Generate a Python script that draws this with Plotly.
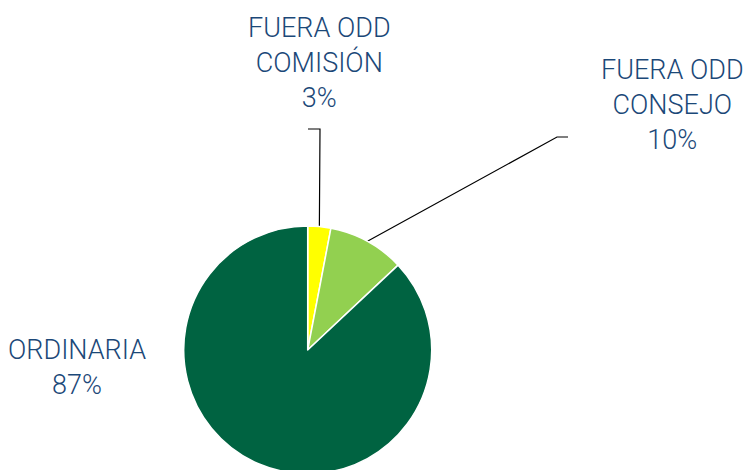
import math
import plotly.graph_objects as go

# ---- data ----
categories = ["FUERA ODD<br>COMISIÓN", "FUERA ODD<br>CONSEJO", "ORDINARIA"]
values = [3, 10, 87]
colors = ["#FFFF00", "#92D050", "#006341"]

# ---- layout constants (pixels) ----
W, H = 746, 474          # slightly taller than the window: pie is cropped at bottom
CX, CY, R = 307.7, 350.0, 124.0
TEXT_COLOR = "#1B4878"
FONT = "Roboto"
FS = 27

# label centres and leader elbows (pixel coords); None = no leader line
label_pos = [(319, 63), (672, 105), (77, 367)]
elbows = [[(320, 129), (308, 129)], [(557, 137), (568, 137)], None]

fig = go.Figure()

fig.add_trace(go.Pie(
    labels=[c.replace("<br>", " ") for c in categories],
    values=values,
    sort=False,
    direction="clockwise",
    rotation=0,
    marker=dict(colors=colors, line=dict(color="white", width=1.5)),
    textinfo="none",
    hoverinfo="label+percent",
    showlegend=False,
    domain=dict(x=[(CX - R) / W, (CX + R) / W], y=[(H - CY - R) / H, (H - CY + R) / H]),
))

total = sum(values)
cum = 0
for i, v in enumerate(values):
    mid = (cum + v / 2) / total
    cum += v
    th = 2 * math.pi * mid
    ex, ey = CX + R * math.sin(th), CY - R * math.cos(th)
    if elbows[i] is not None:
        xs = [ex] + [p[0] for p in elbows[i]]
        ys = [ey] + [p[1] for p in elbows[i]]
        fig.add_trace(go.Scatter(x=xs, y=ys, mode="lines",
                                 line=dict(color="black", width=1.2),
                                 hoverinfo="skip", showlegend=False))
    pct = round(100 * v / total)
    fig.add_annotation(x=label_pos[i][0], y=label_pos[i][1],
                       text=f"{categories[i]}<br>{pct}%",
                       showarrow=False, xanchor="center", yanchor="middle",
                       font=dict(family=FONT, size=FS, color=TEXT_COLOR, weight=300))

fig.update_layout(
    width=W, height=H,
    margin=dict(l=0, r=0, t=0, b=0),
    paper_bgcolor="white", plot_bgcolor="rgba(0,0,0,0)",
    xaxis=dict(range=[0, W], visible=False, fixedrange=True),
    yaxis=dict(range=[H, 0], visible=False, fixedrange=True),
)

fig.write_html(
    "out.html",
    config={"displayModeBar": False},
    post_script="document.body.style.margin='0';document.body.style.overflow='hidden';"
                "document.documentElement.style.overflow='hidden';",
)
